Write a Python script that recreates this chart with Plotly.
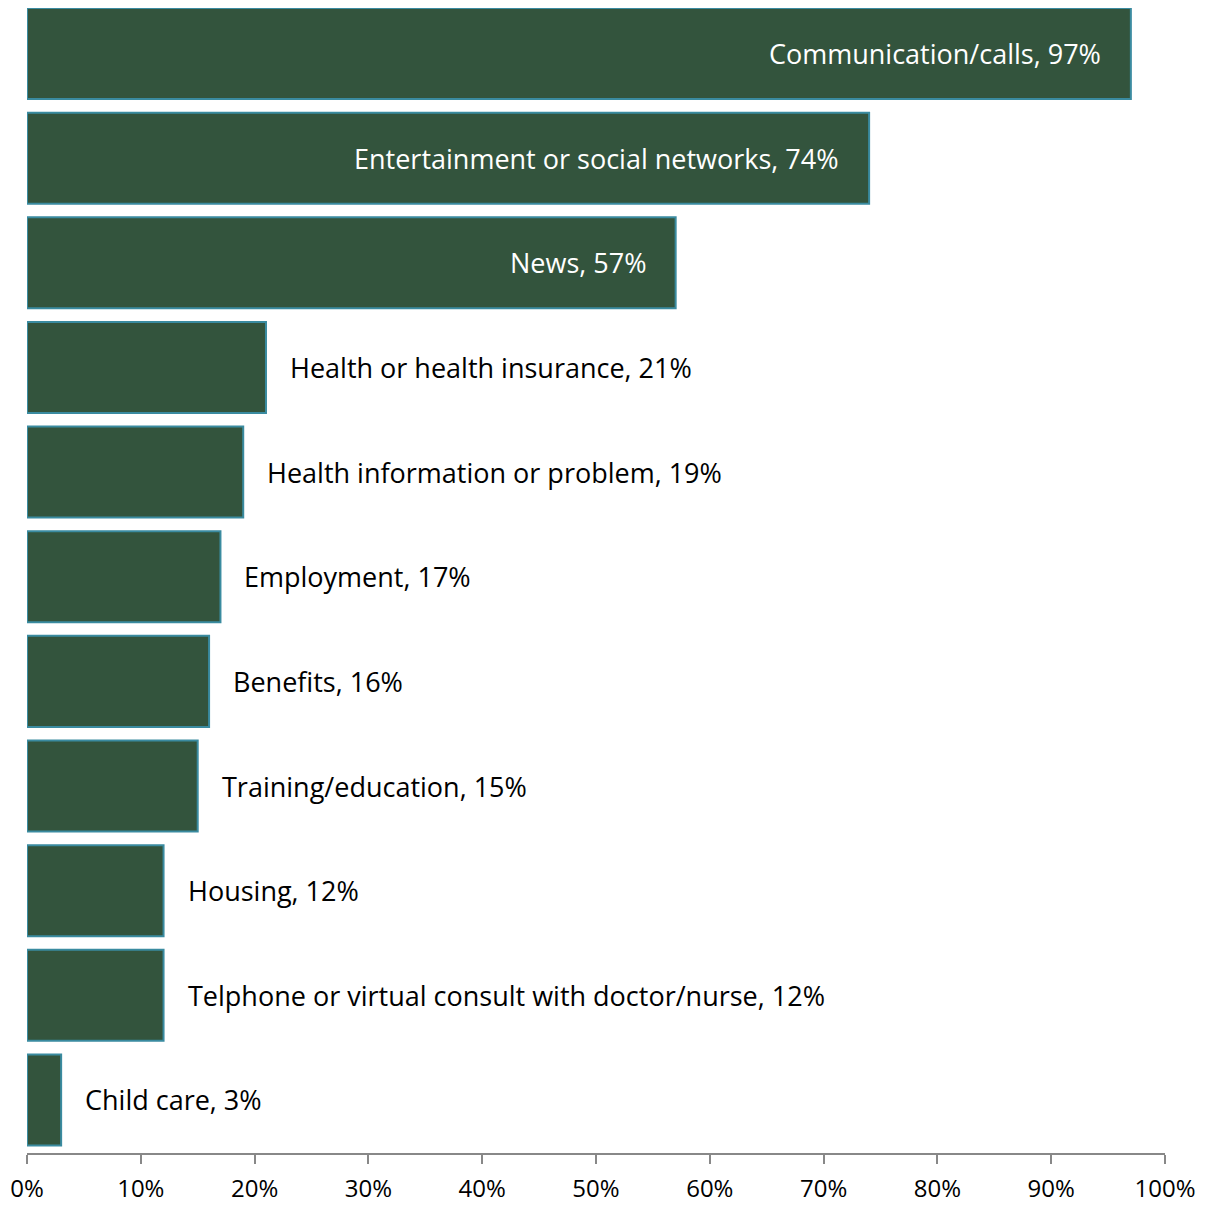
import plotly.graph_objects as go

# Usage categories, top to bottom as in the chart
categories = ["Communication/calls", "Entertainment or social networks", "News",
              "Health or health insurance", "Health information or problem",
              "Employment", "Benefits", "Training/education", "Housing",
              "Telphone or virtual consult with doctor/nurse", "Child care"]
values = [97, 74, 57, 21, 19, 17, 16, 15, 12, 12, 3]
tick_vals = [0, 10, 20, 30, 40, 50, 60, 70, 80, 90, 100]
tick_text = [f"{v}%" for v in tick_vals]

fill_col = "#33543D"
edge_col = "#3A8BA0"
font_family = "'Open Sans', Lato, sans-serif"

fig = go.Figure()
fig.add_trace(go.Bar(x=values, y=categories, orientation="h",
                     marker=dict(color=fill_col, line=dict(color=edge_col, width=2)),
                     hoverinfo="x+y"))

# Labels: inside (white) for the long bars, outside (black) for the rest
for cat, val in zip(categories, values):
    label = f"{cat}, {val}%"
    if val > 50:
        fig.add_annotation(x=val, y=cat, text=label, showarrow=False, xanchor="right",
                           xshift=-28, font=dict(color="white", size=27, family=font_family))
    else:
        fig.add_annotation(x=val, y=cat, text=label, showarrow=False, xanchor="left",
                           xshift=22, font=dict(color="black", size=27, family=font_family))

# page body has an 8px margin, so the figure is a bit smaller than the window
fig.update_layout(
    width=1201, height=1197,
    margin=dict(l=19, r=44, t=0, b=52),
    plot_bgcolor="white", paper_bgcolor="white",
    bargap=0.13, showlegend=False,
    font=dict(family=font_family, color="black"),
)
fig.update_xaxes(range=[0, 100], tickvals=tick_vals, ticktext=tick_text,
                 showgrid=False, zeroline=False, showline=True, linecolor="#888888",
                 linewidth=2, ticks="outside", ticklen=9, tickwidth=2, tickcolor="#888888",
                 ticklabelstandoff=4,
                 tickfont=dict(size=24, color="black"), fixedrange=True, automargin=False)
fig.update_yaxes(range=[10.507, -0.435], showticklabels=False, showgrid=False,
                 zeroline=False, showline=False, fixedrange=True, automargin=False)

fig.write_html("out.html")
